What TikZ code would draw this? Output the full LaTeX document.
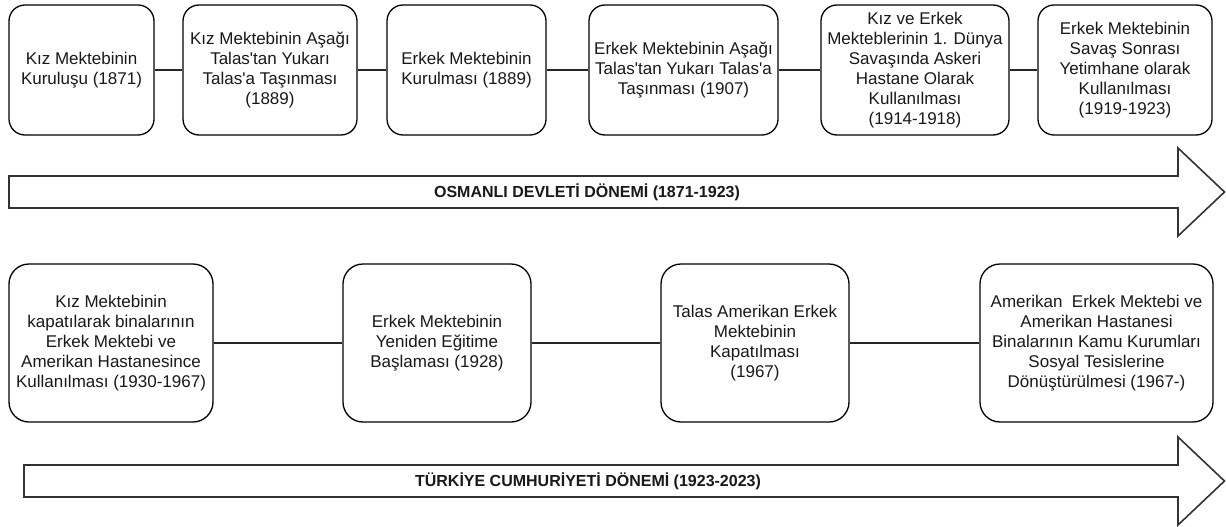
\documentclass[tikz,border=0pt]{standalone}
\usepackage{fontspec}
\setmainfont{Liberation Sans}[Ligatures=TeXOff]
\begin{document}
\begin{tikzpicture}[x=1pt,y=-1pt,
  evbox/.style={draw=black,line width=1.3pt,rounded corners=16pt,align=center,inner sep=0pt,
    font=\fontsize{17}{20}\selectfont,text=black!90},
  topbox/.style={evbox,minimum height=130pt},
  botbox/.style={evbox,minimum height=158pt,rounded corners=20pt},
  link/.style={draw=black!85,line width=1.2pt},
  bigarrow/.style={draw=black!80,line width=1.6pt,fill=white,line join=miter},
  arrowlabel/.style={font=\bfseries\fontsize{16}{19}\selectfont,text=black!90,inner sep=0pt}]
\useasboundingbox[fill=white] (0,0) rectangle (1226,527);

% top row
\node[topbox,minimum width=145pt] (a1) at (81.5,70) {Kız Mektebinin\\Kuruluşu (1871)};
\node[topbox,minimum width=174pt] (a2) at (270,70) {Kız Mektebinin Aşağı\\Talas'tan Yukarı\\Talas'a Taşınması\\(1889)};
\node[topbox,minimum width=159pt] (a3) at (466.5,70) {Erkek Mektebinin\\Kurulması (1889)};
\node[topbox,minimum width=189pt] (a4) at (683.5,70) {Erkek Mektebinin Aşağı\\Talas'tan Yukarı Talas'a\\Taşınması (1907)};
\node[topbox,minimum width=188pt] (a5) at (915,70) {Kız ve Erkek\\Mekteblerinin 1. Dünya\\Savaşında Askeri\\Hastane Olarak\\Kullanılması\\(1914-1918)};
\node[topbox,minimum width=174pt] (a6) at (1125,70) {Erkek Mektebinin\\Savaş Sonrası\\Yetimhane olarak\\Kullanılması\\(1919-1923)};
\draw[link] (a1.east) -- (a2.west);
\draw[link] (a2.east) -- (a3.west);
\draw[link] (a3.east) -- (a4.west);
\draw[link] (a4.east) -- (a5.west);
\draw[link] (a5.east) -- (a6.west);

% top arrow
\draw[bigarrow] (9,176) -- (1178,176) -- (1178,148) -- (1224.5,192) -- (1178,236) -- (1178,208) -- (9,208) -- cycle;
\node[arrowlabel] (l1) at (587,192) {OSMANLI DEVLETİ DÖNEMİ (1871-1923)};

% bottom row
\node[botbox,minimum width=204pt] (b1) at (111,343) {Kız Mektebinin\\kapatılarak binalarının\\Erkek Mektebi ve\\Amerikan Hastanesince\\Kullanılması (1930-1967)};
\node[botbox,minimum width=188pt] (b2) at (437,343) {Erkek Mektebinin\\Yeniden Eğitime\\Başlaması (1928)};
\node[botbox,minimum width=188pt] (b3) at (755,343) {Talas Amerikan Erkek\\Mektebinin\\Kapatılması\\(1967)};
\node[botbox,minimum width=233pt] (b4) at (1096.5,343) {Amerikan~ Erkek Mektebi ve\\Amerikan Hastanesi\\Binalarının Kamu Kurumları\\Sosyal Tesislerine\\Dönüştürülmesi (1967-)};
\draw[link] (b1.east) -- (b2.west);
\draw[link] (b2.east) -- (b3.west);
\draw[link] (b3.east) -- (b4.west);

% bottom arrow
\draw[bigarrow] (24,465) -- (1178,465) -- (1178,437) -- (1224.5,481) -- (1178,525) -- (1178,497) -- (24,497) -- cycle;
\node[arrowlabel] (l2) at (588,481) {TÜRKİYE CUMHURİYETİ DÖNEMİ (1923-2023)};
\end{tikzpicture}
\end{document}
